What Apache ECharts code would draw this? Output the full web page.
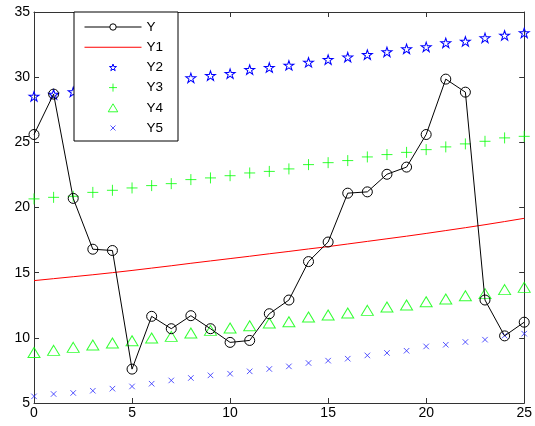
<!DOCTYPE html>
<html>
<head>
<meta charset="utf-8">
<script src="https://cdn.jsdelivr.net/npm/echarts@6/dist/echarts.min.js"></script>
<style>html,body{margin:0;padding:0;background:#fff;}#c{width:535px;height:426px;}</style>
</head>
<body>
<div id="c"></div>
<script>
var xValues = [0,1,2,3,4,5,6,7,8,9,10,11,12,13,14,15,16,17,18,19,20,21,22,23,24,25];
var Y  = [25.6,28.7,20.7,16.8,16.7,7.6,11.65,10.7,11.7,10.7,9.65,9.8,11.85,12.9,15.85,17.35,21.1,21.2,22.55,23.1,25.6,29.85,28.85,12.9,10.15,11.2];
var Y1 = [14.39,14.54,14.69,14.84,15.0,15.17,15.35,15.53,15.72,15.9,16.08,16.26,16.45,16.63,16.82,17.0,17.2,17.4,17.6,17.8,18.01,18.23,18.45,18.68,18.92,19.17];
var Y2 = [28.53,28.68,28.87,29.05,29.2,29.38,29.55,29.75,29.94,30.12,30.27,30.58,30.74,30.91,31.14,31.35,31.53,31.73,31.94,32.17,32.32,32.63,32.75,33.01,33.21,33.4];
var Y3 = [20.66,20.78,20.86,21.16,21.32,21.5,21.68,21.83,22.14,22.27,22.44,22.65,22.77,22.96,23.29,23.44,23.6,23.88,24.06,24.23,24.44,24.65,24.88,25.08,25.34,25.46];
var Y4 = [8.88,9.04,9.27,9.45,9.6,9.78,9.99,10.11,10.37,10.57,10.76,10.93,11.14,11.24,11.6,11.75,11.91,12.11,12.37,12.52,12.77,12.98,13.23,13.39,13.7,13.87];
var Y5 = [5.51,5.69,5.77,5.94,6.1,6.27,6.48,6.73,6.92,7.12,7.25,7.43,7.61,7.81,8.07,8.25,8.4,8.65,8.84,9.01,9.34,9.47,9.68,9.86,10.17,10.32];
var seriesNames = ['Y','Y1','Y2','Y3','Y4','Y5'];
var xTicks = {min:0, max:25, interval:5};
var yTicks = {min:5, max:35, interval:5};

function pairs(arr){ return xValues.map(function(x,i){ return [x, arr[i]]; }); }

var starShape = 'M50 0 L61.23 34.55 L97.55 34.55 L68.17 55.9 L79.39 90.45 L50 69.1 L20.61 90.45 L31.83 55.9 L2.45 34.55 L38.77 34.55 Z';
var starPath = 'path://' + starShape;
var starLegend = 'path://M-5 -8 M105 100 ' + starShape;
var plusPath = 'path://M0 50 L100 50 M50 0 L50 100';
var crossShape = 'M0 0 L100 100 M0 100 L100 0';
var crossPath = 'path://' + crossShape;
var crossLegend = 'path://M-30 -30 M130 130 ' + crossShape;
var triPath = 'path://M50 0 L100 84 L0 84 Z';
var linePath = 'path://M0 0 L100 0 L100 1.8 L0 1.8 Z';
var font = 'Liberation Sans';
var axisCol = '#333';

var chart = echarts.init(document.getElementById('c'), null, {renderer:'canvas'});
var baseX = {type:'value', min:xTicks.min, max:xTicks.max, interval:xTicks.interval,
  axisLine:{show:true, onZero:false, lineStyle:{color:axisCol, width:1}},
  axisTick:{show:true, inside:true, length:5, lineStyle:{color:axisCol}},
  splitLine:{show:false}};
var baseY = {type:'value', min:yTicks.min, max:yTicks.max, interval:yTicks.interval,
  axisLine:{show:true, onZero:false, lineStyle:{color:axisCol, width:1}},
  axisTick:{show:true, inside:true, length:5, lineStyle:{color:axisCol}},
  splitLine:{show:false}};

chart.setOption({
  animation:false,
  backgroundColor:'#fff',
  grid:{left:34, right:5, top:12, bottom:23, containLabel:false},
  xAxis:[
    Object.assign({}, baseX, {position:'bottom', axisLabel:{color:'#000', fontFamily:font, fontSize:14, margin:3}}),
    Object.assign({}, baseX, {position:'top', axisLabel:{show:false}})
  ],
  yAxis:[
    Object.assign({}, baseY, {position:'left', axisLabel:{color:'#000', fontFamily:font, fontSize:14, margin:4}}),
    Object.assign({}, baseY, {position:'right', axisLabel:{show:false}})
  ],
  legend:{
    orient:'vertical', left:74, top:12,
    data:[
      {name:'Y', lineStyle:{width:1, color:'#000'}, itemStyle:{color:'#fff', borderColor:'#000', borderWidth:1}},
      {name:'Y1', icon:linePath, itemStyle:{color:'#ff0000', borderWidth:0}},
      {name:'Y2', icon:starLegend, itemStyle:{color:'none', borderColor:'#0000ff', borderWidth:1}},
      {name:'Y3', itemStyle:{color:'none', borderColor:'#00ff00', borderWidth:1}},
      {name:'Y4', icon:triPath, itemStyle:{color:'none', borderColor:'#00ff00', borderWidth:1}},
      {name:'Y5', icon:crossLegend, itemStyle:{color:'none', borderColor:'#2a2aff', borderWidth:1}}
    ],
    backgroundColor:'#fff', borderColor:'#000', borderWidth:1, borderRadius:0,
    padding:[8,15,6,10], itemWidth:57, itemHeight:8, itemGap:6.2,
    textStyle:{color:'#000', fontFamily:font, fontSize:13.5},
    z:10
  },
  series:[
    {name:'Y', type:'line', data:pairs(Y), symbol:'circle', symbolSize:10,
      lineStyle:{color:'#000', width:1}, itemStyle:{color:'none', borderColor:'#000', borderWidth:1}, z:3},
    {name:'Y1', type:'line', data:pairs(Y1), symbol:'none', showSymbol:false,
      lineStyle:{color:'#ff0000', width:1}, itemStyle:{color:'#ff0000'}, z:2},
    {name:'Y2', type:'scatter', data:pairs(Y2), symbol:starPath, symbolSize:[10,9.5],
      itemStyle:{color:'none', borderColor:'#0000ff', borderWidth:1, opacity:1}},
    {name:'Y3', type:'scatter', data:pairs(Y3), symbol:plusPath, symbolSize:11,
      itemStyle:{color:'none', borderColor:'#00ff00', borderWidth:1}},
    {name:'Y4', type:'scatter', data:pairs(Y4), symbol:triPath, symbolSize:[12,10],
      itemStyle:{color:'none', borderColor:'#00ff00', borderWidth:1}},
    {name:'Y5', type:'scatter', data:pairs(Y5), symbol:crossPath, symbolSize:5.5,
      itemStyle:{color:'none', borderColor:'#2a2aff', borderWidth:1}}
  ]
});
</script>
</body>
</html>
